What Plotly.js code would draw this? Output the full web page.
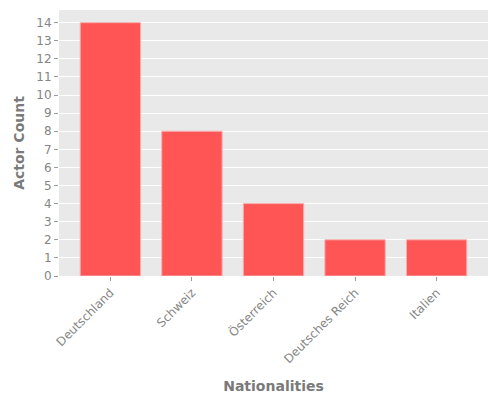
<!DOCTYPE html>
<html>
<head>
<meta charset="utf-8">
<script src="https://cdn.plot.ly/plotly-3.0.1.min.js"></script>
<style>
  body { margin: 0; background: #fff; }
  #chart { width: 500px; height: 400px; }
</style>
</head>
<body>
<div id="chart"></div>
<script>
const nationalities = ['Deutschland', 'Schweiz', 'Österreich', 'Deutsches Reich', 'Italien'];
const actorCounts = [14, 8, 4, 2, 2];
const yTicks = [0, 1, 2, 3, 4, 5, 6, 7, 8, 9, 10, 11, 12, 13, 14];

document.addEventListener("DOMContentLoaded", () => {
    var trace1 = {
        x: nationalities,
        y: actorCounts,
        type: 'bar',
        width: 0.74,
        marker: {
            color: '#FF5555',
            line: { color: '#F4B0B0', width: 1 }
        },
        hoverinfo: 'x+y'
    };

    const layout = {
        width: 500,
        height: 400,
        paper_bgcolor: '#FFFFFF',
        plot_bgcolor: '#E9E9E9',
        font: { family: 'DejaVu Sans', color: '#7F7F7F' },
        showlegend: false,
        xaxis: {
            type: 'category',
            range: [-0.63, 4.63],
            tickangle: -45,
            ticks: 'outside',
            ticklen: 4,
            tickcolor: '#9A9A9A',
            tickfont: { size: 12, color: '#858585' },
            showgrid: false,
            zeroline: false,
            showline: false,
            fixedrange: true,
            title: {
                text: '<b>Nationalities</b>',
                font: { size: 14, color: '#7A7A7A' },
                standoff: 16
            }
        },
        yaxis: {
            range: [0, 14.7],
            tickvals: yTicks,
            ticktext: yTicks.map(String),
            ticks: 'outside',
            ticklen: 4,
            tickcolor: '#9A9A9A',
            tickfont: { size: 12, color: '#858585' },
            showgrid: true,
            gridcolor: '#FFFFFF',
            gridwidth: 1,
            zeroline: false,
            showline: false,
            fixedrange: true,
            title: {
                text: '<b>Actor Count</b>',
                font: { size: 14, color: '#7A7A7A' },
                standoff: 8
            }
        },
        margin: { t: 10, l: 59, r: 12, b: 124, pad: 0 },
        bargap: 0.26
    };

    const options = { displayModeBar: false };

    Plotly.newPlot('chart', [trace1], layout, options);
});
</script>
</body>
</html>
